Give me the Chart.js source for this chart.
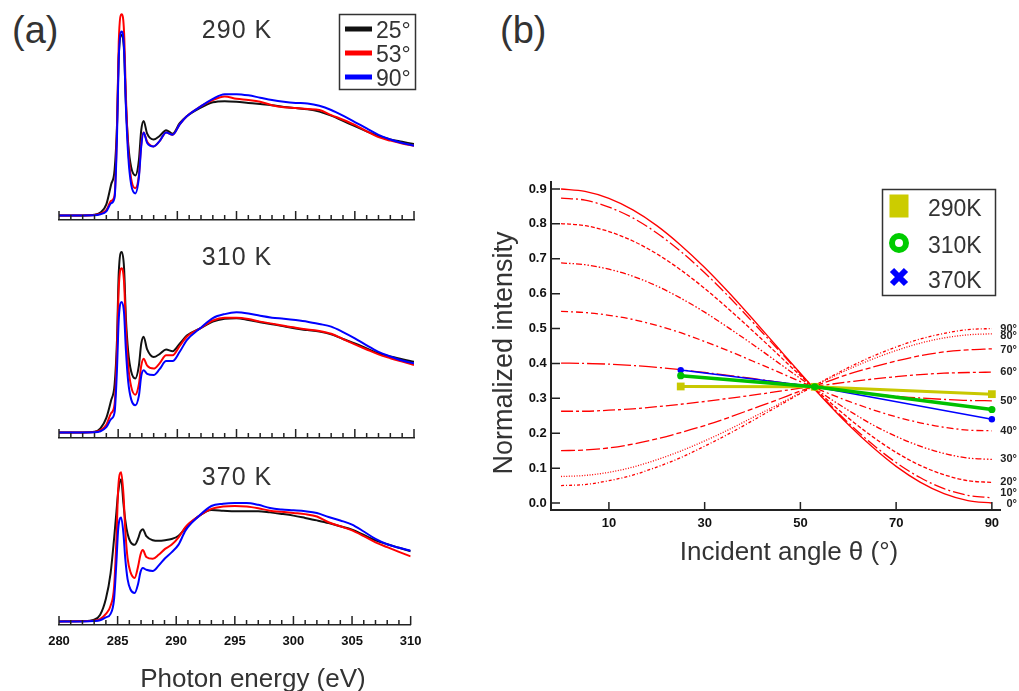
<!DOCTYPE html>
<html>
<head>
<meta charset="utf-8">
<title>C K-edge NEXAFS</title>
<script src="https://cdn.jsdelivr.net/npm/chart.js@4.4.1/dist/chart.umd.min.js"></script>
<style>
  html, body { margin: 0; padding: 0; background: #fff; }
  body { position: relative; width: 1019px; height: 691px; overflow: hidden; }
  canvas { position: absolute; }
  .tag { position: absolute; font: 38px/38px "Liberation Sans", Arial, sans-serif; color: #333; }
</style>
</head>
<body>
<div class="tag" style="left:12px;top:11px">(a)</div>
<div class="tag" style="left:500px;top:11px">(b)</div>
<canvas id="a1" width="430" height="222" style="left:0;top:0"></canvas>
<canvas id="a2" width="430" height="218" style="left:0;top:222px"></canvas>
<canvas id="a3" width="430" height="251" style="left:0;top:440px"></canvas>
<canvas id="b" width="559" height="420" style="left:460px;top:150px"></canvas>
<script>
const FONT = '"Liberation Sans", Arial, sans-serif';

// ---- (a) spectra (arb. units, 1 ~ plateau) ----
const energy = [280, 282, 283, 283.5, 284, 284.4, 284.7, 284.9, 285.05, 285.3,
  285.5, 285.65, 285.85, 286.1, 286.45, 286.75, 286.95, 287.15, 287.45, 288,
  288.5, 289.05, 289.6, 290.2, 290.8, 291.9, 293, 294, 295, 296,
  297, 298, 299, 300, 301, 302, 303, 304, 305, 306, 307, 308, 309, 310];
const energyTicks = [280, 285, 290, 295, 300, 305, 310];
const angles = ['25°', '53°', '90°'];

const s290_25 = [0.005, 0.005, 0.01, 0.03, 0.10, 0.27, 0.40, 0.78, 1.38, 1.56,
  1.42, 0.98, 0.62, 0.42, 0.35, 0.48, 0.74, 0.82, 0.71, 0.66,
  0.69, 0.74, 0.71, 0.80, 0.86, 0.93, 0.98, 0.99, 0.985, 0.975,
  0.965, 0.954, 0.94, 0.93, 0.92, 0.90, 0.865, 0.82, 0.775, 0.73, 0.69, 0.66, 0.64, 0.62];
const s290_53 = [0.005, 0.005, 0.008, 0.02, 0.05, 0.13, 0.18, 0.75, 1.50, 1.74,
  1.58, 1.05, 0.58, 0.32, 0.24, 0.35, 0.62, 0.72, 0.64, 0.60,
  0.645, 0.72, 0.70, 0.79, 0.86, 0.94, 1.0, 1.03, 1.01, 1.0,
  0.985, 0.955, 0.937, 0.93, 0.922, 0.914, 0.87, 0.83, 0.785, 0.73, 0.68, 0.65, 0.625, 0.606];
const s290_90 = [0.005, 0.005, 0.006, 0.015, 0.04, 0.11, 0.16, 0.68, 1.36, 1.59,
  1.44, 0.95, 0.52, 0.27, 0.195, 0.33, 0.60, 0.72, 0.63, 0.60,
  0.645, 0.72, 0.70, 0.79, 0.86, 0.94, 1.01, 1.05, 1.05, 1.04,
  1.02, 1.0, 0.985, 0.975, 0.97, 0.95, 0.914, 0.865, 0.81, 0.755, 0.70, 0.66, 0.63, 0.606];

const s310_25 = [0.005, 0.005, 0.01, 0.04, 0.13, 0.28, 0.42, 0.80, 1.38, 1.56,
  1.42, 1.0, 0.70, 0.53, 0.47, 0.58, 0.77, 0.83, 0.72, 0.655,
  0.68, 0.72, 0.705, 0.77, 0.84, 0.90, 0.96, 0.985, 0.99, 0.974,
  0.955, 0.937, 0.92, 0.90, 0.887, 0.874, 0.85, 0.81, 0.773, 0.73, 0.687, 0.66, 0.635, 0.615];
const s310_53 = [0.005, 0.005, 0.008, 0.025, 0.07, 0.17, 0.25, 0.72, 1.25, 1.42,
  1.30, 0.92, 0.58, 0.40, 0.33, 0.42, 0.58, 0.64, 0.58, 0.555,
  0.60, 0.67, 0.67, 0.75, 0.83, 0.90, 0.97, 0.994, 0.994, 0.983,
  0.96, 0.943, 0.925, 0.908, 0.893, 0.88, 0.856, 0.81, 0.764, 0.72, 0.678, 0.645, 0.615, 0.586];
const s310_90 = [0.005, 0.005, 0.006, 0.015, 0.05, 0.12, 0.18, 0.55, 0.98, 1.13,
  1.03, 0.72, 0.44, 0.29, 0.24, 0.32, 0.49, 0.54, 0.51, 0.50,
  0.55, 0.62, 0.62, 0.70, 0.80, 0.90, 0.99, 1.025, 1.04, 1.03,
  1.01, 0.994, 0.985, 0.974, 0.96, 0.94, 0.917, 0.87, 0.816, 0.755, 0.70, 0.66, 0.625, 0.60];

const s370_25 = [0.005, 0.008, 0.02, 0.06, 0.20, 0.42, 0.72, 0.95, 1.12, 1.23,
  1.02, 0.88, 0.76, 0.69, 0.665, 0.72, 0.78, 0.80, 0.74, 0.705,
  0.70, 0.705, 0.715, 0.744, 0.81, 0.91, 0.965, 0.96, 0.954, 0.955,
  0.955, 0.945, 0.932, 0.917, 0.897, 0.876, 0.853, 0.825, 0.796, 0.75, 0.704, 0.67, 0.64, 0.61];
const s370_53 = [0.005, 0.006, 0.01, 0.025, 0.07, 0.14, 0.30, 0.72, 1.15, 1.29,
  1.10, 0.80, 0.55, 0.43, 0.38, 0.48, 0.58, 0.62, 0.56, 0.545,
  0.58, 0.63, 0.665, 0.73, 0.82, 0.91, 0.975, 0.995, 1.0, 0.995,
  0.98, 0.96, 0.95, 0.94, 0.93, 0.91, 0.86, 0.825, 0.79, 0.74, 0.687, 0.645, 0.605, 0.566];
const s370_90 = [0.005, 0.005, 0.008, 0.015, 0.04, 0.07, 0.20, 0.52, 0.80, 0.90,
  0.76, 0.55, 0.37, 0.28, 0.25, 0.33, 0.43, 0.465, 0.45, 0.44,
  0.486, 0.55, 0.60, 0.667, 0.79, 0.91, 1.0, 1.02, 1.026, 1.026,
  1.01, 0.983, 0.97, 0.963, 0.955, 0.94, 0.905, 0.875, 0.84, 0.78, 0.716, 0.67, 0.64, 0.615];

// ---- (b) normalized intensity vs incident angle ----
const theta = [0, 5, 10, 15, 20, 25, 30, 35, 40, 45, 50, 55, 60, 65, 70, 75, 80, 85, 90];
const tilt0  = [0.900, 0.893, 0.873, 0.840, 0.795, 0.739, 0.675, 0.604, 0.528, 0.450, 0.372, 0.296, 0.225, 0.161, 0.105, 0.060, 0.027, 0.007, 0.000];
const tilt10 = [0.874, 0.868, 0.848, 0.817, 0.774, 0.721, 0.660, 0.592, 0.519, 0.445, 0.370, 0.298, 0.230, 0.169, 0.116, 0.073, 0.041, 0.022, 0.015];
const tilt20 = [0.801, 0.795, 0.778, 0.751, 0.714, 0.668, 0.615, 0.556, 0.494, 0.430, 0.365, 0.303, 0.244, 0.191, 0.145, 0.108, 0.081, 0.064, 0.059];
const tilt30 = [0.688, 0.683, 0.670, 0.650, 0.622, 0.587, 0.547, 0.502, 0.455, 0.406, 0.357, 0.310, 0.266, 0.225, 0.191, 0.163, 0.142, 0.129, 0.125];
const tilt40 = [0.549, 0.546, 0.538, 0.526, 0.509, 0.488, 0.463, 0.436, 0.407, 0.378, 0.348, 0.319, 0.292, 0.268, 0.247, 0.230, 0.217, 0.209, 0.207];
const tilt50 = [0.401, 0.400, 0.398, 0.394, 0.389, 0.382, 0.374, 0.366, 0.357, 0.347, 0.338, 0.329, 0.320, 0.313, 0.306, 0.301, 0.297, 0.294, 0.293];
const tilt60 = [0.263, 0.263, 0.266, 0.270, 0.276, 0.283, 0.291, 0.300, 0.309, 0.319, 0.329, 0.338, 0.347, 0.355, 0.362, 0.368, 0.372, 0.374, 0.375];
const tilt70 = [0.150, 0.152, 0.158, 0.169, 0.184, 0.202, 0.222, 0.245, 0.270, 0.295, 0.321, 0.345, 0.369, 0.389, 0.407, 0.422, 0.433, 0.439, 0.442];
const tilt80 = [0.076, 0.079, 0.088, 0.103, 0.124, 0.149, 0.178, 0.210, 0.245, 0.280, 0.316, 0.350, 0.383, 0.412, 0.437, 0.458, 0.473, 0.482, 0.485];
const tilt90 = [0.050, 0.053, 0.064, 0.080, 0.103, 0.130, 0.163, 0.198, 0.236, 0.275, 0.314, 0.352, 0.388, 0.420, 0.447, 0.470, 0.486, 0.497, 0.500];
const tiltLabels = ['0°', '10°', '20°', '30°', '40°', '50°', '60°', '70°', '80°', '90°'];

const measTheta = [25, 53, 90];
const k290 = [0.334, 0.333, 0.312];
const k310 = [0.365, 0.333, 0.268];
const k370 = [0.381, 0.333, 0.240];
const tempLabels = ['290K', '310K', '370K'];

const angleTicks = [10, 30, 50, 70, 90];
const intensityTicks = [0, 0.1, 0.2, 0.3, 0.4, 0.5, 0.6, 0.7, 0.8, 0.9];

Chart.defaults.font.family = FONT;
Chart.defaults.animation = false;

const pts = (xs, ys) => xs.map((v, i) => ({x: v, y: ys[i]}));

// inward ticks, panel label, legend and axis title for the spectra
const spectrumDeco = {
  id: 'spectrumDeco',
  afterDraw(chart, args, opts) {
    const {ctx, chartArea: a, scales: {x}} = chart;
    ctx.save();
    ctx.strokeStyle = '#222';
    ctx.lineWidth = 1.5;
    ctx.beginPath();
    for (let e = 280; e <= 310; e++) {
      const px = x.getPixelForValue(e);
      ctx.moveTo(px, a.bottom);
      ctx.lineTo(px, a.bottom - (e % 5 === 0 ? 9 : 5));
    }
    ctx.stroke();

    ctx.fillStyle = '#333';
    ctx.font = `25px ${FONT}`;
    ctx.letterSpacing = '1px';
    ctx.textAlign = 'center';
    ctx.textBaseline = 'alphabetic';
    ctx.fillText(opts.label, 237, opts.labelY);
    ctx.letterSpacing = '0px';

    if (opts.legend) {
      const cols = ['#111111', '#ff0000', '#0000ff'];
      ctx.fillStyle = '#fff';
      ctx.fillRect(339, 14, 76, 75);
      ctx.strokeStyle = '#333';
      ctx.lineWidth = 1.5;
      ctx.strokeRect(339.5, 14.5, 76, 75);
      ctx.font = `23px ${FONT}`;
      ctx.textAlign = 'left';
      angles.forEach((t, i) => {
        const yy = 29 + i * 24;
        ctx.strokeStyle = cols[i];
        ctx.lineWidth = 5;
        ctx.beginPath();
        ctx.moveTo(345, yy);
        ctx.lineTo(372, yy);
        ctx.stroke();
        ctx.fillStyle = '#333';
        ctx.fillText(t, 376, yy + 9);
      });
    }
    if (opts.title) {
      ctx.fillStyle = '#333';
      ctx.font = `26px ${FONT}`;
      ctx.textAlign = 'center';
      ctx.fillText(opts.title, 253, 247);
    }
    ctx.restore();
  }
};

function spectrum(id, series, yMin, yMax, deco, bottom) {
  const colors = ['#111111', '#ff0000', '#0000ff'];
  return new Chart(document.getElementById(id), {
    type: 'line',
    data: {
      datasets: series.map((s, i) => ({
        label: angles[i],
        data: pts(energy, s),
        borderColor: colors[i],
        borderWidth: 2,
        pointRadius: 0,
        cubicInterpolationMode: 'monotone',
        order: 3 - i
      }))
    },
    options: {
      responsive: false,
      animation: false,
      layout: {padding: {left: 59, right: 16, top: 4, bottom: bottom ? 0 : 2}},
      plugins: {legend: {display: false}, tooltip: {enabled: false}, spectrumDeco: deco},
      scales: {
        x: {
          type: 'linear', min: 280, max: 310,
          afterBuildTicks: s => { s.ticks = energyTicks.map(v => ({value: v})); },
          afterFit: s => { s.height = bottom ? 66 : 0; },
          grid: {display: true, drawOnChartArea: false, drawTicks: false},
          border: {display: true, color: '#222', width: 1.5},
          ticks: {display: bottom, color: '#111', padding: 8.5, maxRotation: 0, autoSkip: false,
                  font: {size: 13, weight: 'bold'}}
        },
        y: {display: false, min: yMin, max: yMax}
      }
    },
    plugins: [spectrumDeco]
  });
}

spectrum('a1', [s290_25, s290_53, s290_90], -0.0345, 1.8276, {label: '290 K', labelY: 38, legend: true}, false);
spectrum('a2', [s310_25, s310_53, s310_90], -0.0431, 1.7845, {label: '310 K', labelY: 43}, false);
spectrum('a3', [s370_25, s370_53, s370_90], -0.0259, 1.5345, {label: '370 K', labelY: 45, title: 'Photon energy (eV)'}, true);

// (b) decorations: inward ticks, curve labels, legend, axis titles
const angleDeco = {
  id: 'angleDeco',
  afterDraw(chart) {
    const {ctx, chartArea: a, scales: {x, y}} = chart;
    ctx.save();
    ctx.strokeStyle = '#222';
    ctx.lineWidth = 1.5;
    ctx.beginPath();
    intensityTicks.forEach(v => {
      const py = y.getPixelForValue(v);
      ctx.moveTo(a.left, py);
      ctx.lineTo(a.left + 9, py);
    });
    angleTicks.forEach(v => {
      const px = x.getPixelForValue(v);
      ctx.moveTo(px, a.bottom);
      ctx.lineTo(px, a.bottom - 8);
    });
    ctx.stroke();

    // tilt-angle labels at the right end of each curve
    const tilts = [tilt0, tilt10, tilt20, tilt30, tilt40, tilt50, tilt60, tilt70, tilt80, tilt90];
    const nudge = [1, -4.5, 0, 0, 0, 0, 0, 1, 2.5, 0];
    ctx.fillStyle = '#222';
    ctx.font = `bold 11px ${FONT}`;
    ctx.textAlign = 'right';
    ctx.textBaseline = 'middle';
    tilts.forEach((t, i) => {
      ctx.fillText(tiltLabels[i], 557, y.getPixelForValue(t[t.length - 1]) + nudge[i]);
    });

    // legend
    const lx = a.right - 118, ly = a.top + 7;
    ctx.fillStyle = '#fff';
    ctx.fillRect(lx, ly, 113, 106);
    ctx.strokeStyle = '#333';
    ctx.lineWidth = 1.5;
    ctx.strokeRect(lx + 0.5, ly + 0.5, 113, 106);
    const mx = lx + 17;
    ctx.fillStyle = '#cccc00';
    ctx.fillRect(mx - 9.5, ly + 17 - 11.5, 19, 23);
    ctx.strokeStyle = '#00cc00';
    ctx.lineWidth = 6;
    ctx.beginPath();
    ctx.arc(mx, ly + 54, 7, 0, Math.PI * 2);
    ctx.stroke();
    ctx.strokeStyle = '#0000ff';
    ctx.lineWidth = 6;
    ctx.beginPath();
    ctx.moveTo(mx - 7, ly + 88 - 7); ctx.lineTo(mx + 7, ly + 88 + 7);
    ctx.moveTo(mx + 7, ly + 88 - 7); ctx.lineTo(mx - 7, ly + 88 + 7);
    ctx.stroke();
    ctx.fillStyle = '#333';
    ctx.font = `23px ${FONT}`;
    ctx.textAlign = 'left';
    ctx.textBaseline = 'alphabetic';
    [27, 64, 99].forEach((dy, i) => ctx.fillText(tempLabels[i], lx + 46, ly + dy));

    // axis titles
    ctx.font = `26px ${FONT}`;
    ctx.textAlign = 'center';
    ctx.fillText('Incident angle θ (°)', 329, 410);
    ctx.translate(52, 203);
    ctx.rotate(-Math.PI / 2);
    ctx.font = `27px ${FONT}`;
    ctx.fillText('Normalized intensity', 0, 0);
    ctx.restore();
  }
};

const tiltSets = [tilt0, tilt10, tilt20, tilt30, tilt40, tilt50, tilt60, tilt70, tilt80, tilt90];
const tiltDash = [[], [12, 3, 2, 3], [4, 2], [6, 2, 1.5, 2, 1.5, 2], [7, 3, 2, 3],
  [18, 3, 2, 3], [12, 3, 3, 3], [14, 3, 5, 3], [1, 1.6], [3, 2, 1, 2]];

new Chart(document.getElementById('b'), {
  type: 'line',
  data: {
    datasets: [
      {label: '310K', data: pts(measTheta, k310), borderColor: '#00c000', backgroundColor: '#00c000',
       borderWidth: 3.5, pointRadius: 3.6, pointBorderWidth: 0},
      {label: '290K', data: pts(measTheta, k290), borderColor: '#c8c800', backgroundColor: '#c8c800',
       borderWidth: 3, pointStyle: 'rect', pointRadius: 5.5, pointBorderWidth: 0},
      {label: '370K', data: pts(measTheta, k370), borderColor: '#0000ff', backgroundColor: '#0000ff',
       borderWidth: 1.5, pointRadius: 3.2, pointBorderWidth: 0},
      ...tiltSets.map((t, i) => ({
        label: tiltLabels[i],
        data: pts(theta, t),
        borderColor: '#ff0000',
        borderWidth: 1.3,
        borderDash: tiltDash[i],
        pointRadius: 0,
        cubicInterpolationMode: 'monotone'
      }))
    ]
  },
  options: {
    responsive: false,
    animation: false,
    layout: {padding: {left: 0, right: 19, top: 32, bottom: 0}},
    plugins: {legend: {display: false}, tooltip: {enabled: false}},
    scales: {
      x: {
        type: 'linear', min: -2.1, max: 91.7,
        afterBuildTicks: s => { s.ticks = angleTicks.map(v => ({value: v})); },
        afterFit: s => { s.height = 60; },
        grid: {display: true, drawOnChartArea: false, drawTicks: false},
        border: {display: true, color: '#222', width: 2},
        ticks: {color: '#111', padding: 5.2, maxRotation: 0, autoSkip: false, font: {size: 13, weight: 'bold'}}
      },
      y: {
        min: -0.02, max: 0.92,
        afterBuildTicks: s => { s.ticks = intensityTicks.map(v => ({value: v})); },
        afterFit: s => { s.width = 91; },
        grid: {display: true, drawOnChartArea: false, drawTicks: false},
        border: {display: true, color: '#222', width: 2},
        ticks: {color: '#111', padding: 4.3, autoSkip: false, font: {size: 13, weight: 'bold'},
                callback: v => v.toFixed(1)}
      }
    }
  },
  plugins: [angleDeco]
});
</script>
</body>
</html>
